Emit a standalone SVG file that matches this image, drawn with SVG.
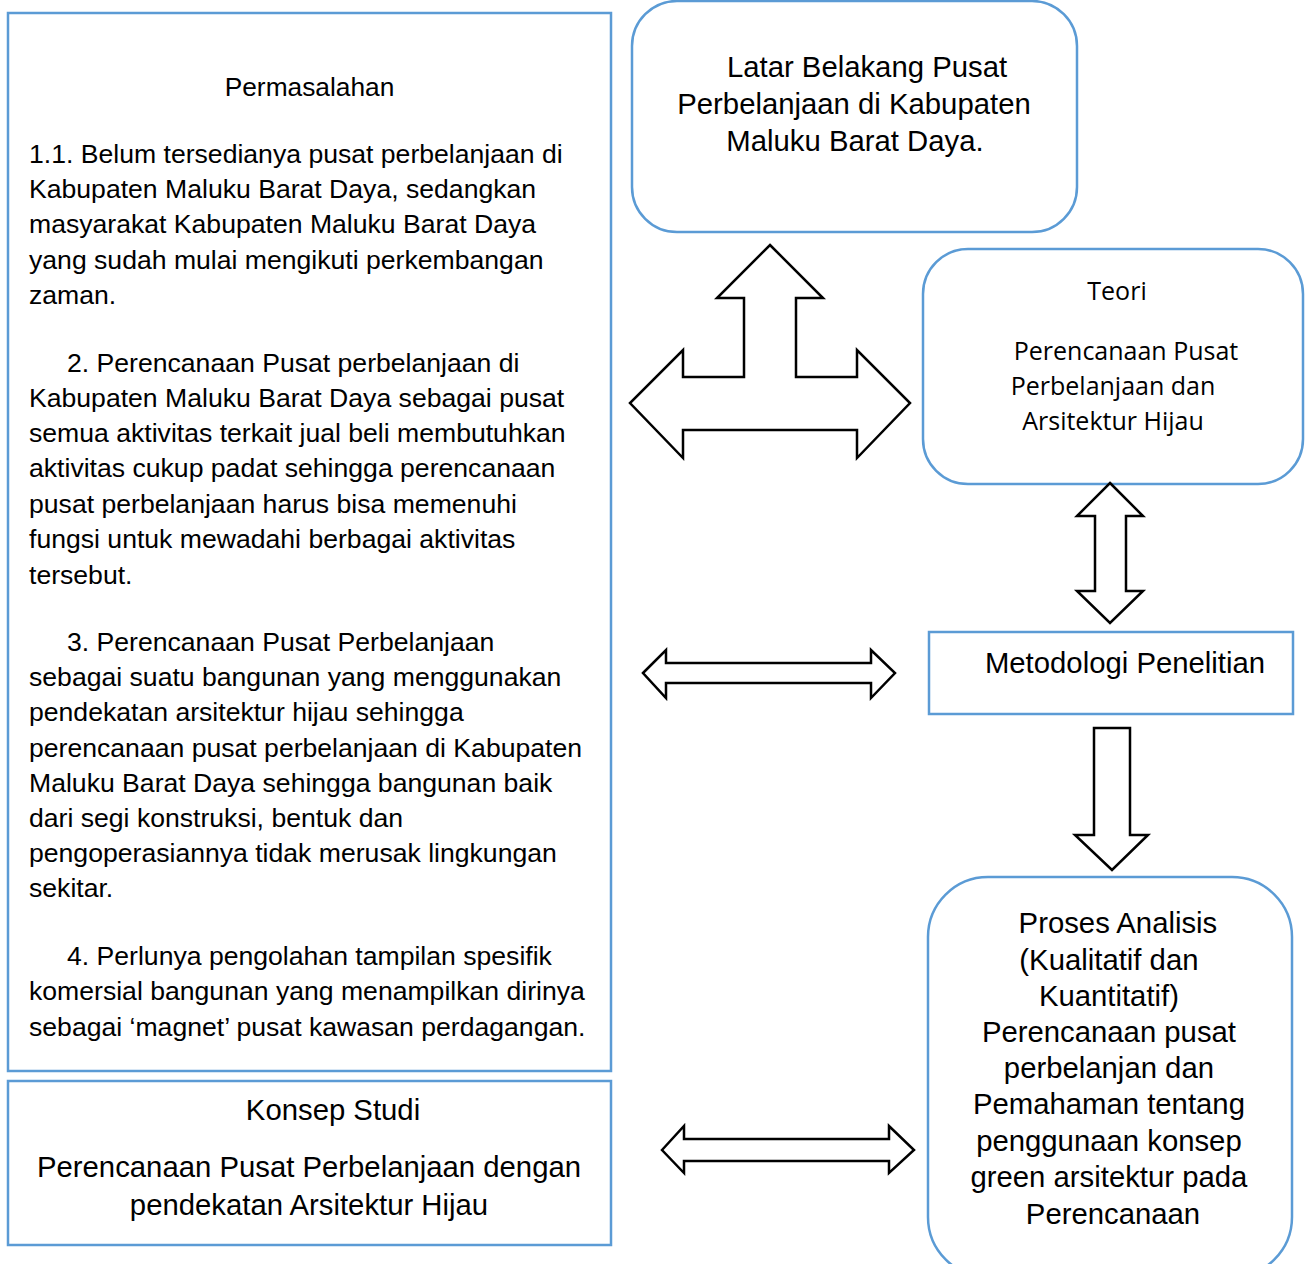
<svg xmlns="http://www.w3.org/2000/svg" width="1307" height="1264" viewBox="0 0 1307 1264">
<style>
.box{fill:#fff;stroke:#5b9bd5;stroke-width:2.5}
.arr{fill:#fff;stroke:#000;stroke-width:2.5;stroke-linejoin:miter}
.t{font-family:"Liberation Sans",Arial,sans-serif;fill:#000}
.body{font-size:26.6px}
.big{font-size:29.3px}
.c{text-anchor:middle}
.teori{font-family:"Open Sans","Noto Sans",sans-serif;font-size:25px;fill:#000;text-anchor:middle}
</style>
<rect width="1307" height="1264" fill="#fff"/>
<g id="permasalahan">
<rect class="box" x="8" y="13" width="603" height="1058"/>
<text class="t c" x="309.5" y="96" font-size="26.3">Permasalahan</text>
<text class="t body">
<tspan x="29" y="163">1.1. Belum tersedianya pusat perbelanjaan di</tspan>
<tspan x="29" y="198">Kabupaten Maluku Barat Daya, sedangkan</tspan>
<tspan x="29" y="233">masyarakat Kabupaten Maluku Barat Daya</tspan>
<tspan x="29" y="269">yang sudah mulai mengikuti perkembangan</tspan>
<tspan x="29" y="304">zaman.</tspan>
<tspan x="67" y="372">2. Perencanaan Pusat perbelanjaan di</tspan>
<tspan x="29" y="407">Kabupaten Maluku Barat Daya sebagai pusat</tspan>
<tspan x="29" y="442">semua aktivitas terkait jual beli membutuhkan</tspan>
<tspan x="29" y="477">aktivitas cukup padat sehingga perencanaan</tspan>
<tspan x="29" y="513">pusat perbelanjaan harus bisa memenuhi</tspan>
<tspan x="29" y="548">fungsi untuk mewadahi berbagai aktivitas</tspan>
<tspan x="29" y="584">tersebut.</tspan>
<tspan x="67" y="651">3. Perencanaan Pusat Perbelanjaan</tspan>
<tspan x="29" y="686">sebagai suatu bangunan yang menggunakan</tspan>
<tspan x="29" y="721">pendekatan arsitektur hijau sehingga</tspan>
<tspan x="29" y="757">perencanaan pusat perbelanjaan di Kabupaten</tspan>
<tspan x="29" y="792">Maluku Barat Daya sehingga bangunan baik</tspan>
<tspan x="29" y="827">dari segi konstruksi, bentuk dan</tspan>
<tspan x="29" y="862">pengoperasiannya tidak merusak lingkungan</tspan>
<tspan x="29" y="897">sekitar.</tspan>
<tspan x="67" y="965">4. Perlunya pengolahan tampilan spesifik</tspan>
<tspan x="29" y="1000">komersial bangunan yang menampilkan dirinya</tspan>
<tspan x="29" y="1036">sebagai ‘magnet’ pusat kawasan perdagangan.</tspan>
</text>
</g>
<g id="konsep-studi">
<rect class="box" x="8" y="1081" width="603" height="164"/>
<text class="t big c" x="333" y="1120">Konsep Studi</text>
<text class="t big c" x="309" y="1177">Perencanaan Pusat Perbelanjaan dengan</text>
<text class="t big c" x="309" y="1215">pendekatan Arsitektur Hijau</text>
</g>
<g id="latar-belakang">
<rect class="box" x="632" y="1" width="445" height="231" rx="45" ry="45"/>
<text class="t big c" x="867" y="77">Latar Belakang Pusat</text>
<text class="t big c" x="854" y="114">Perbelanjaan di Kabupaten</text>
<text class="t big c" x="855" y="151">Maluku Barat Daya.</text>
</g>
<g id="teori">
<rect class="box" x="923" y="249" width="380" height="235" rx="45" ry="45"/>
<text class="teori" x="1117" y="300">Teori</text>
<text class="teori" x="1126" y="360">Perencanaan Pusat</text>
<text class="teori" x="1113" y="395">Perbelanjaan dan</text>
<text class="teori" x="1113" y="430">Arsitektur Hijau</text>
</g>
<g id="metodologi">
<rect class="box" x="929" y="632" width="364" height="82"/>
<text class="t big c" x="1125" y="673">Metodologi Penelitian</text>
</g>
<g id="proses-analisis">
<rect class="box" x="928" y="877" width="364" height="400" rx="60" ry="60"/>
<text class="t big c">
<tspan x="1122" y="933">Proses Analisis</tspan>
<tspan x="1113" y="970">(Kualitatif dan</tspan>
<tspan x="1113" y="1006">Kuantitatif)</tspan>
<tspan x="1113" y="1042">Perencanaan pusat</tspan>
<tspan x="1113" y="1078">perbelanjan dan</tspan>
<tspan x="1113" y="1114">Pemahaman tentang</tspan>
<tspan x="1113" y="1151">penggunaan konsep</tspan>
<tspan x="1113" y="1187">green arsitektur pada</tspan>
<tspan x="1113" y="1224">Perencanaan</tspan>
</text>
</g>
<g id="connectors">
<path class="arr" d="M770,245 L823,298 L796,298 L796,377 L857,377 L857,350 L910,403 L857,458 L857,430 L683,430 L683,458 L630,403 L683,350 L683,377 L744,377 L744,298 L717,298 Z"/>
<path class="arr" d="M1110,483 L1143,516 L1126,516 L1126,591 L1143,591 L1110,623 L1077,591 L1095,591 L1095,516 L1077,516 Z"/>
<path class="arr" d="M1094,728 L1130,728 L1130,835 L1148,835 L1112,870 L1075,835 L1094,835 Z"/>
<path class="arr" d="M643,673 L666,650 L666,663 L871,663 L871,650 L895,673 L871,698 L871,683 L666,683 L666,698 Z"/>
<path class="arr" d="M662,1150 L684,1126 L684,1139 L889,1139 L889,1126 L914,1150 L889,1173 L889,1161 L684,1161 L684,1173 Z"/>
</g>
</svg>
